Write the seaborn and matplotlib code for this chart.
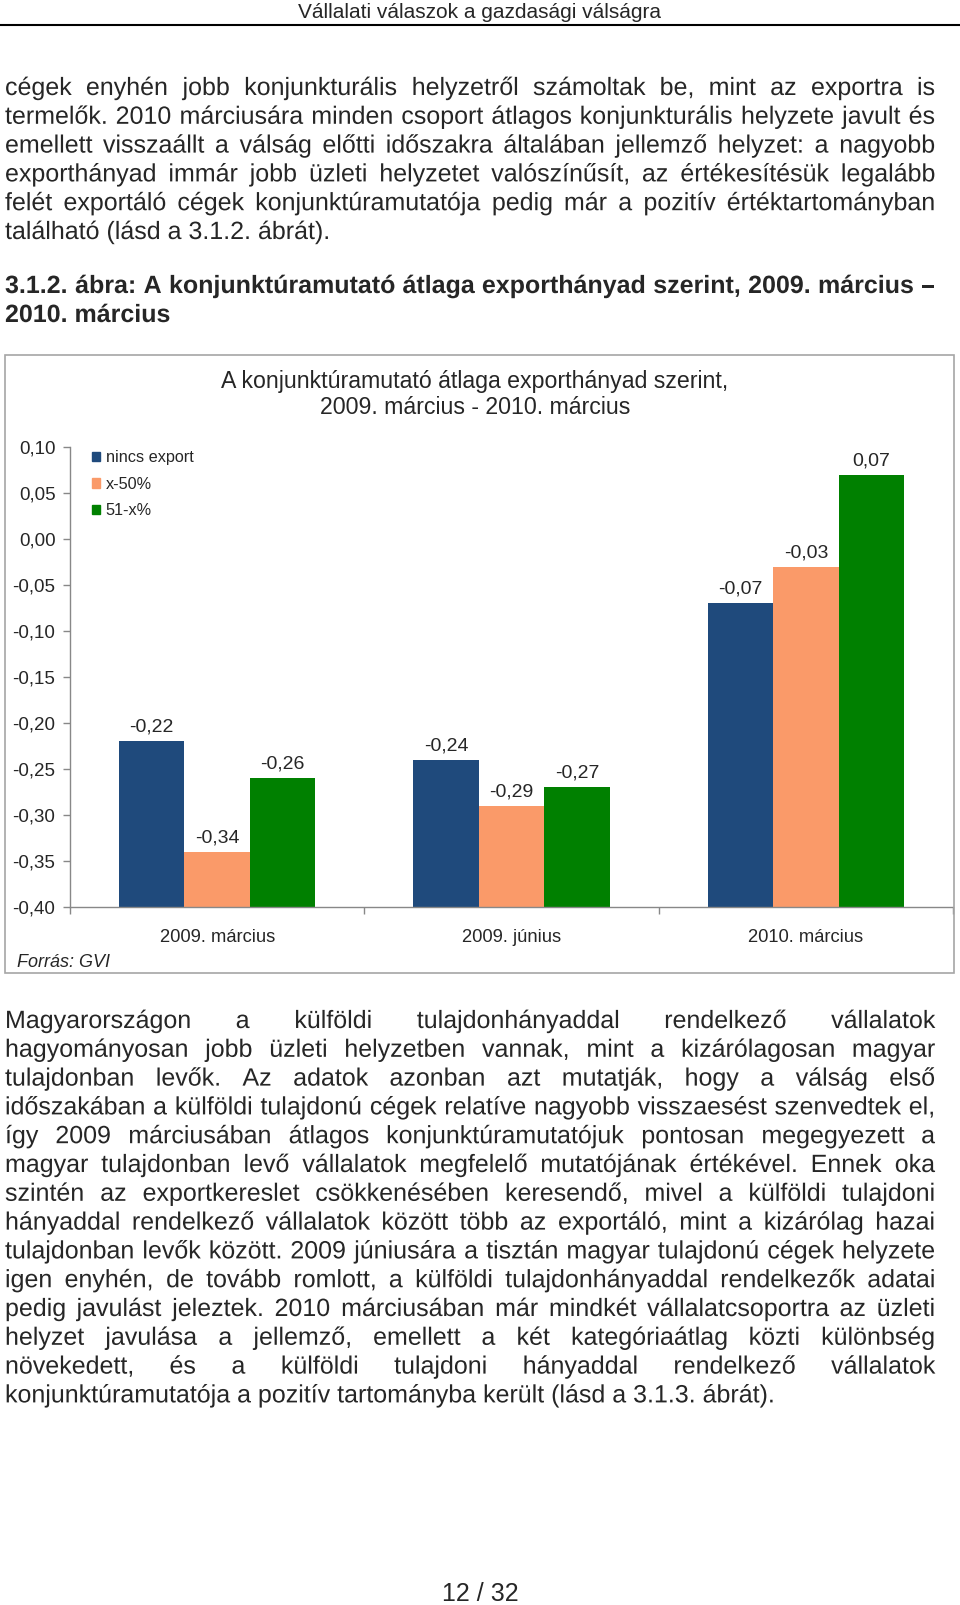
import numpy as np
import pandas as pd
import seaborn as sns
import matplotlib.pyplot as plt
import matplotlib.patheffects as pe
from matplotlib.patches import Rectangle
from matplotlib.lines import Line2D
from matplotlib.ticker import FixedLocator, FuncFormatter

W, H = 960, 1605

# chart data
periods = ["2009. március", "2009. június", "2010. március"]
groups = ["nincs export", "x-50%", "51-x%"]
nincs_export = [-0.22, -0.24, -0.07]
x_50 = [-0.34, -0.29, -0.03]
x_51 = [-0.26, -0.27, 0.07]
colors = ["#1F4A7C", "#FA9A69", "#008000"]
ytick_values = [0.10, 0.05, 0.00, -0.05, -0.10, -0.15, -0.20, -0.25, -0.30, -0.35, -0.40]
axis_floor = -0.40

chart_title = ["A konjunktúramutató átlaga exporthányad szerint,",
               "2009. március - 2010. március"]

header = "Vállalati válaszok a gazdasági válságra"
para1 = [
    "cégek enyhén jobb konjunkturális helyzetről számoltak be, mint az exportra is",
    "termelők. 2010 márciusára minden csoport átlagos konjunkturális helyzete javult és",
    "emellett visszaállt a válság előtti időszakra általában jellemző helyzet: a nagyobb",
    "exporthányad immár jobb üzleti helyzetet valószínűsít, az értékesítésük legalább",
    "felét exportáló cégek konjunktúramutatója pedig már a pozitív értéktartományban",
    "található (lásd a 3.1.2. ábrát).",
]
caption = [
    "3.1.2. ábra: A konjunktúramutató átlaga exporthányad szerint, 2009. március –",
    "2010. március",
]
para2 = [
    "Magyarországon a külföldi tulajdonhányaddal rendelkező vállalatok",
    "hagyományosan jobb üzleti helyzetben vannak, mint a kizárólagosan magyar",
    "tulajdonban levők. Az adatok azonban azt mutatják, hogy a válság első",
    "időszakában a külföldi tulajdonú cégek relatíve nagyobb visszaesést szenvedtek el,",
    "így 2009 márciusában átlagos konjunktúramutatójuk pontosan megegyezett a",
    "magyar tulajdonban levő vállalatok megfelelő mutatójának értékével. Ennek oka",
    "szintén az exportkereslet csökkenésében keresendő, mivel a külföldi tulajdoni",
    "hányaddal rendelkező vállalatok között több az exportáló, mint a kizárólag hazai",
    "tulajdonban levők között. 2009 júniusára a tisztán magyar tulajdonú cégek helyzete",
    "igen enyhén, de tovább romlott, a külföldi tulajdonhányaddal rendelkezők adatai",
    "pedig javulást jeleztek. 2010 márciusában már mindkét vállalatcsoportra az üzleti",
    "helyzet javulása a jellemző, emellett a két kategóriaátlag közti különbség",
    "növekedett, és a külföldi tulajdoni hányaddal rendelkező vállalatok",
    "konjunktúramutatója a pozitív tartományba került (lásd a 3.1.3. ábrát).",
]
page_no = "12 / 32"

sns.set_style("white")
plt.rcParams["font.family"] = ["Liberation Sans", "DejaVu Sans"]

fig = plt.figure(figsize=(W / 100, H / 100), dpi=100)
renderer = fig.canvas.get_renderer()
as_path = [pe.Normal()]  # draw words as paths so baselines line up exactly


def fx(x):
    return x / W


def fy(y):
    return 1 - y / H


def put_line(text, y, x0=5, x1=935, justify=True, **kw):
    if not justify:
        fig.text(fx(x0), fy(y), text, va="baseline", ha="left",
                 path_effects=as_path, **kw)
        return
    words = text.split(" ")
    items = [fig.text(0, fy(y), w, va="baseline", ha="left",
                      path_effects=as_path, **kw) for w in words]
    widths = [t.get_window_extent(renderer).width for t in items]
    gap = (x1 - x0 - sum(widths)) / (len(words) - 1)
    x = x0
    for t, w in zip(items, widths):
        t.set_x(fx(x))
        x += w + gap


def put_paragraph(lines, y0, step=28.8, **kw):
    for i, line in enumerate(lines):
        put_line(line, y0 + i * step, justify=(i < len(lines) - 1), **kw)


# page text
fig.text(fx(480), fy(18), header, ha="center", va="baseline", fontsize=15)
fig.add_artist(Line2D([0, 1], [fy(24.5), fy(24.5)], transform=fig.transFigure,
                      color="black", lw=1.5))
put_paragraph(para1, 95, fontsize=18)
put_paragraph(caption, 293, step=29, fontsize=18, fontweight="bold")
put_paragraph(para2, 1028, fontsize=18)
fig.text(fx(480), fy(1601), page_no, ha="center", va="baseline", fontsize=18)

# chart frame and titles
fig.add_artist(Rectangle((fx(5), fy(973)), (954 - 5) / W, (973 - 355) / H,
                         transform=fig.transFigure, fill=False,
                         edgecolor="#A6A6A6", lw=1.2))
fig.text(fx(475), fy(388), chart_title[0], ha="center", va="baseline", fontsize=16.7)
fig.text(fx(475), fy(414), chart_title[1], ha="center", va="baseline", fontsize=16.7)
fig.text(fx(17), fy(967), "Forrás: GVI", ha="left", va="baseline",
         fontsize=13, style="italic")

# bar chart
ax = fig.add_axes([fx(70), fy(907), (953 - 70) / W, (907 - 447) / H])
rows = []
for g, vals in zip(groups, [nincs_export, x_50, x_51]):
    for p, v in zip(periods, vals):
        rows.append({"period": p, "group": g, "value": v})
df = pd.DataFrame(rows)
df["height"] = df["value"] - axis_floor

sns.barplot(data=df, x="period", y="height", hue="group", order=periods,
            hue_order=groups, palette=colors, saturation=1, width=0.667,
            bottom=axis_floor, linewidth=0, ax=ax, legend=False)

for cont, vals in zip(ax.containers, [nincs_export, x_50, x_51]):
    ax.bar_label(cont, labels=[f"{v:.2f}".replace(".", ",") for v in vals],
                 padding=4, fontsize=14)

ax.set_ylim(axis_floor, 0.10)
ax.set_xlim(-0.5, 2.5)
ax.yaxis.set_major_locator(FixedLocator(ytick_values))
ax.yaxis.set_major_formatter(FuncFormatter(lambda v, p: f"{v:.2f}".replace(".", ",")))
ax.tick_params(axis="y", length=5, width=1, color="#888888", pad=5.5,
               labelsize=13.5, left=True)
ax.xaxis.set_minor_locator(FixedLocator([-0.5, 0.5, 1.5, 2.5]))
ax.tick_params(axis="x", which="major", length=0, pad=16, labelsize=13.2)
ax.tick_params(axis="x", which="minor", length=5, width=1, color="#888888",
               bottom=True)
ax.set_xlabel("")
ax.set_ylabel("")
for s in ["top", "right"]:
    ax.spines[s].set_visible(False)
for s in ["left", "bottom"]:
    ax.spines[s].set_color("#888888")
    ax.spines[s].set_linewidth(1)
ax.set_facecolor("none")

handles = [Rectangle((0, 0), 1, 1, color=c) for c in colors]
ax.legend(handles, groups, loc="upper left", bbox_to_anchor=(fx(92), fy(450)),
          bbox_transform=fig.transFigure, frameon=False, fontsize=11.7,
          handlelength=0.5, handleheight=0.5, handletextpad=0.35,
          labelspacing=0.72, borderpad=0, borderaxespad=0)

fig.savefig("out.png", dpi=100)
